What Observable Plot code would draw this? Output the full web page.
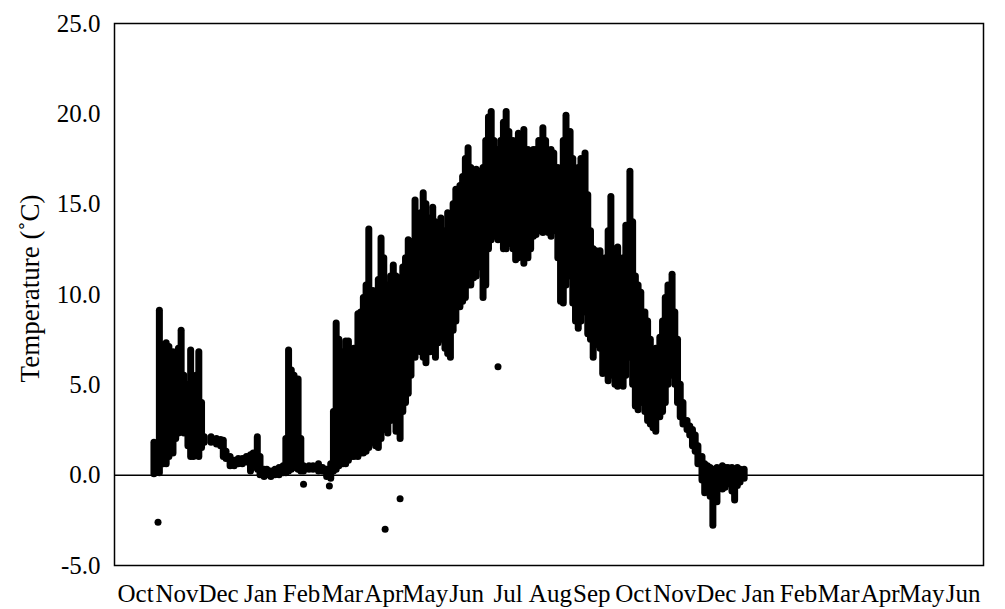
<!DOCTYPE html>
<html>
<head>
<meta charset="utf-8">
<script src="https://cdn.jsdelivr.net/npm/d3@7"></script>
<script src="https://cdn.jsdelivr.net/npm/@observablehq/plot@0.6"></script>
<style>
  html, body { margin: 0; padding: 0; background: #fff; overflow: hidden; }
</style>
</head>
<body>
<div id="chart"></div>
<script>
// Record window: October of the first year to the end of June, 21 months later.
const start = new Date(Date.UTC(2015, 9, 1));
const end = new Date(Date.UTC(2017, 6, 1));

const monthLabels = ["Oct", "Nov", "Dec", "Jan", "Feb", "Mar", "Apr", "May", "Jun", "Jul", "Aug", "Sep",
                     "Oct", "Nov", "Dec", "Jan", "Feb", "Mar", "Apr", "May", "Jun"];
const yTicks = [-5, 0, 5, 10, 15, 20, 25];
const yTitle = "Temperature (˚C)";

// Logged temperatures, summarised as the spread of readings around each day (days since 1 October).
const dayOfRecord = [
  29, 33, 36, 38, 40, 43, 45, 47, 49, 51, 54, 56, 58, 60, 62, 64,
  66, 71, 75, 78, 80, 82, 85, 88, 91, 94, 97, 100, 102, 105, 107,
  110, 112, 115, 118, 121, 124, 126, 128, 130, 132, 135, 137, 139, 143, 146, 150, 153, 156, 159,
  161, 163, 165, 168, 170, 172, 174, 176, 179, 181, 183, 185, 187, 190, 192, 194, 196, 198,
  201, 203, 205, 207, 210, 212, 214, 216, 218, 221, 223, 225, 227, 229, 232, 234, 236, 238,
  240, 243, 245, 247, 249, 251, 254, 256, 258, 260, 262, 264, 266, 268, 271, 273, 275, 277, 279,
  282, 284, 286, 288, 290, 293, 295, 297, 299, 301, 304, 306, 308, 310, 312, 315, 317, 319, 321, 323,
  326, 328, 330, 332, 335, 337, 339, 341, 343, 346, 348, 350, 352, 354, 357, 359, 361, 363, 365,
  368, 370, 372, 374, 376, 379, 381, 383, 385, 387, 390, 392, 394, 396, 398, 401, 403, 405, 407,
  410, 412, 414, 416, 418, 421, 423, 425, 427, 429, 432, 434, 436, 438, 440, 443, 445, 447, 449,
  451, 454, 456, 458, 460, 463
];
const tempMin = [
  0.05, 0.1, 0.6, 0.6, 1.0, 1.2, 2.0, 2.3, 2.4, 2.3, 1.6, 1.0, 1.0, 1.2, 1.0, 1.5,
  1.8, 1.8, 1.7, 1.6, 1.0, 0.9, 0.5, 0.5, 0.6, 0.6, 0.7, 0.2, 0.6, 0.3, 0.0,
  -0.1, 0.0, -0.1, 0.0, 0.0, 0.1, 0.1, 0.2, 0.3, 0.4, 0.3, 0.2, 0.2, 0.3, 0.3, 0.2, 0.2, -0.1, -0.2,
  0.2, 0.3, 0.5, 0.6, 0.6, 0.8, 1.0, 1.0, 1.0, 1.2, 1.2, 1.3, 1.5, 1.8, 1.6, 1.5, 2.0, 2.5,
  2.3, 3.0, 3.3, 2.4, 2.0, 3.5, 4.0, 4.5, 5.5, 6.5, 7.0, 6.8, 6.5, 6.2, 6.8, 8.0, 6.5, 7.3,
  7.5, 7.0, 6.7, 6.5, 8.0, 8.5, 9.3, 9.6, 9.8, 10.5, 10.5, 10.9, 11.0, 11.5, 9.8, 10.5, 12.5, 13.0, 13.2,
  13.0, 13.5, 12.5, 12.5, 12.8, 12.5, 11.9, 12.0, 12.5, 11.7, 12.0, 12.5, 13.2, 13.3, 13.5, 13.4, 13.6, 13.4, 13.2, 13.5,
  12.0, 9.6, 9.5, 10.5, 11.0, 9.5, 8.5, 8.1, 8.5, 9.0, 7.8, 7.5, 6.5, 7.2, 7.0, 5.6, 6.0, 5.2, 5.5,
  5.0, 4.9, 5.0, 4.9, 5.5, 6.5, 5.0, 3.8, 3.6, 4.0, 3.5, 3.0, 2.8, 2.6, 2.4, 3.2, 3.5, 4.0, 5.0,
  5.5, 5.0, 4.0, 3.2, 2.8, 2.5, 2.2, 1.6, 1.3, 0.6, -0.3, -1.0, -0.6, -1.2, -2.8, -1.5, -0.5, -0.8, -0.7,
  -0.5, -0.9, -1.4, -0.6, -0.4, -0.2
];
const tempMax = [
  1.8, 9.1, 7.2, 7.3, 7.1, 6.8, 6.0, 7.0, 8.0, 5.5, 5.0, 6.9, 5.0, 5.5, 6.8, 4.0,
  2.1, 2.1, 2.0, 1.95, 1.9, 1.3, 1.0, 0.8, 0.9, 0.9, 1.0, 1.1, 1.2, 2.1, 1.0,
  0.3, 0.3, 0.2, 0.3, 0.4, 0.5, 2.0, 6.9, 5.8, 5.5, 5.3, 2.0, 0.5, 0.5, 0.5, 0.6, 0.4, 0.3, 0.6,
  3.5, 8.4, 7.5, 6.8, 7.4, 7.4, 6.8, 7.0, 8.9, 9.0, 9.8, 10.5, 13.6, 10.2, 9.8, 10.8, 13.1, 12.0,
  10.5, 11.0, 11.6, 11.0, 10.9, 11.5, 12.0, 13.0, 12.9, 15.2, 14.0, 14.5, 15.6, 15.0, 14.2, 14.8, 14.0, 13.5,
  14.2, 13.5, 14.5, 13.8, 15.0, 15.8, 16.0, 16.5, 17.5, 18.1, 17.0, 16.5, 16.9, 16.8, 17.0, 18.5, 19.8, 20.1, 18.5,
  18.0, 18.5, 19.5, 20.1, 19.0, 18.5, 17.5, 18.9, 18.0, 19.1, 18.0, 17.5, 18.0, 18.0, 18.5, 19.2, 18.5, 17.5, 18.0, 17.8,
  17.0, 16.5, 18.5, 19.9, 19.0, 17.5, 16.5, 17.0, 17.5, 17.8, 15.5, 13.5, 12.5, 12.4, 12.4, 11.5, 12.0, 13.5, 15.4,
  12.5, 12.6, 11.0, 12.0, 13.8, 16.8, 14.0, 11.0, 10.5, 10.1, 9.0, 8.5, 7.5, 6.5, 7.0, 7.6, 8.5, 9.8, 10.5,
  11.1, 9.0, 7.5, 5.0, 4.0, 3.0, 2.7, 2.5, 2.2, 1.6, 1.0, 0.6, 0.5, 0.4, 0.3, 0.4, 0.3, 0.5, 0.4,
  0.4, 0.4, 0.3, 0.4, 0.3, 0.3
];

// Isolated readings away from the main cloud.
const strayDay = [32, 139, 158, 199, 210, 282];
const strayTemp = [-2.6, -0.5, -0.6, -3.0, -1.3, 6.0];

const toDate = d => new Date(start.getTime() + d * 864e5);
const spans = dayOfRecord.map((d, i) => ({date: toDate(d), lo: tempMin[i], hi: tempMax[i]}));
const strays = strayDay.map((d, i) => ({date: toDate(d), t: strayTemp[i]}));

// One label per month, centred on the middle of that month.
const monthTicks = monthLabels.map((m, i) => {
  const a = d3.utcMonth.offset(start, i);
  const b = d3.utcMonth.offset(start, i + 1);
  return new Date((+a + +b) / 2);
});
const labelOf = new Map(monthTicks.map((d, i) => [+d, monthLabels[i]]));

const chart = Plot.plot({
  width: 1005,
  height: 609,
  marginLeft: 114,
  marginRight: 22,
  marginTop: 23,
  marginBottom: 44,
  style: {
    fontFamily: '"Liberation Serif", "Times New Roman", serif',
    fontSize: "25px",
    color: "black",
    background: "white"
  },
  x: {type: "utc", domain: [start, end]},
  y: {domain: [-5, 25]},
  marks: [
    Plot.ruleY([0], {stroke: "black", strokeWidth: 1.5}),
    Plot.ruleX(spans, {x: "date", y1: "lo", y2: "hi", stroke: "black", strokeWidth: 7, strokeLinecap: "round"}),
    Plot.dot(strays, {x: "date", y: "t", r: 3.5, fill: "black"}),
    Plot.frame({stroke: "black", strokeWidth: 1.5}),
    Plot.axisY(yTicks, {
      tickSize: 0, tickPadding: 14, fontSize: 25,
      tickFormat: d => d.toFixed(1), label: null
    }),
    Plot.axisX(monthTicks, {
      tickSize: 0, tickPadding: 19, fontSize: 25,
      tickFormat: d => labelOf.get(+d), label: null
    }),
    Plot.text([yTitle], {
      frameAnchor: "left", dx: -84, dy: -6, rotate: -90,
      fontSize: 27, fill: "black", textAnchor: "middle"
    })
  ]
});
document.getElementById("chart").appendChild(chart);
</script>
</body>
</html>
